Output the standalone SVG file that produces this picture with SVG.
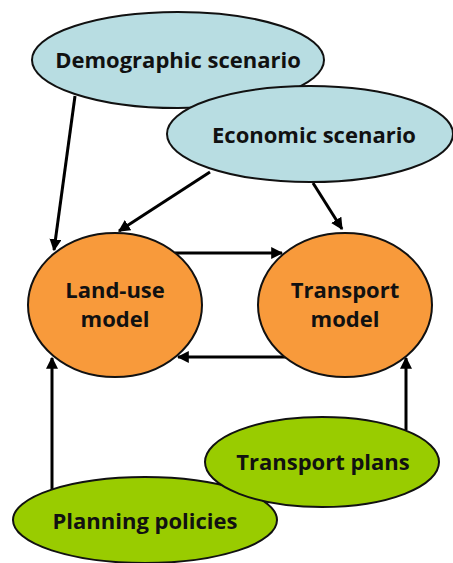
<svg xmlns="http://www.w3.org/2000/svg" width="453" height="563" viewBox="0 0 453 563">
<style>
.b{fill:#b8dde2;stroke:#111;stroke-width:2}
.o{fill:#f89a3b;stroke:#111;stroke-width:2}
.g{fill:#99cc00;stroke:#111;stroke-width:2}
text{font-family:"Open Sans","Liberation Sans",sans-serif;font-weight:bold;font-size:22px;fill:#111;text-anchor:middle}
.c line{stroke:#000;stroke-width:3;marker-end:url(#ah)}
</style>
<defs>
<marker id="ah" viewBox="0 0 10 10" refX="9" refY="5" markerWidth="4" markerHeight="4" markerUnits="strokeWidth" orient="auto">
<path d="M0,0L10,5L0,10z" fill="#000"/>
</marker>
</defs>
<rect width="453" height="563" fill="#fff"/>
<g class="c" id="connectors">
<line x1="75" y1="96" x2="54" y2="250"/>
<line x1="210" y1="172" x2="119" y2="231"/>
<line x1="313" y1="183" x2="342" y2="229"/>
<line x1="175" y1="253" x2="282" y2="253"/>
<line x1="290" y1="357" x2="178" y2="357"/>
<line x1="52" y1="490" x2="52" y2="358"/>
<line x1="406" y1="430" x2="406" y2="358"/>
</g>
<g id="demographic"><ellipse class="b" cx="178" cy="60" rx="146" ry="48"/><text x="178" y="68">Demographic scenario</text></g>
<g id="economic"><ellipse class="b" cx="310" cy="134" rx="143" ry="48"/><text x="314" y="143">Economic scenario</text></g>
<g id="landuse"><ellipse class="o" cx="115" cy="305" rx="87" ry="72"/><text x="115" y="298">Land-use</text><text x="115" y="327">model</text></g>
<g id="transport"><ellipse class="o" cx="345" cy="305" rx="87" ry="72"/><text x="345" y="298">Transport</text><text x="345" y="327">model</text></g>
<g id="planning"><ellipse class="g" cx="145" cy="520" rx="132" ry="43"/><text x="145" y="529">Planning policies</text></g>
<g id="plans"><ellipse class="g" cx="322" cy="462" rx="117" ry="45"/><text x="323" y="470">Transport plans</text></g>
</svg>
